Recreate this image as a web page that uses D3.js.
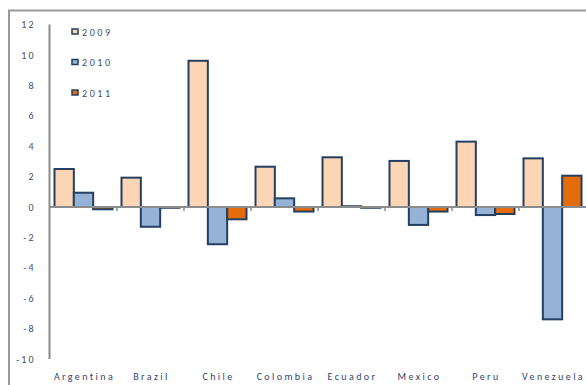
<!DOCTYPE html>
<html>
<head>
<meta charset="utf-8">
<script src="https://cdn.jsdelivr.net/npm/d3@7"></script>
<style>
  html, body { margin: 0; padding: 0; background: #fff; }
  text { font-family: Calibri, Carlito, "Liberation Sans", sans-serif; }
</style>
</head>
<body>
<svg id="chart" width="586" height="385"></svg>
<script>
'use strict';

const countries = ['Argentina', 'Brazil', 'Chile', 'Colombia', 'Ecuador', 'Mexico', 'Peru', 'Venezuela'];
const years = ['2009', '2010', '2011'];
const values2009 = [2.5, 1.93, 9.62, 2.65, 3.27, 3.03, 4.3, 3.2];
const values2010 = [0.94, -1.3, -2.45, 0.57, 0.05, -1.18, -0.53, -7.39];
const values2011 = [-0.15, -0.05, -0.81, -0.3, -0.05, -0.3, -0.46, 2.06];
const yTicks = [12, 10, 8, 6, 4, 2, 0, -2, -4, -6, -8, -10];
const yearColors = ['#fcd5b5', '#95b3d7', '#e46c0a'];

const seriesValues = [values2009, values2010, values2011];
const svg = d3.select('#chart');

const x = d3.scaleBand().domain(countries).range([50, 586]);
const x1 = d3.scaleBand().domain(years).range([4.5, x.bandwidth() - 4.5]);
const y = d3.scaleLinear().domain([-10, 12]).range([359, 24.6]);

// outer frame (only top and left edges are visible)
svg.append('path')
  .attr('d', 'M9,400V10.5H590')
  .attr('fill', 'none')
  .attr('stroke', '#9a9a9a')
  .attr('stroke-width', 2);

// y axis line
svg.append('line')
  .attr('x1', 49.5).attr('x2', 49.5)
  .attr('y1', y(12)).attr('y2', y(-10))
  .attr('stroke', '#8c8c8c')
  .attr('stroke-width', 2);

// y tick labels
svg.append('g').selectAll('text')
  .data(yTicks)
  .enter().append('text')
  .attr('x', 35.5)
  .attr('y', d => y(d) + 3.5)
  .attr('text-anchor', 'end')
  .attr('fill', '#3d4f70')
  .attr('font-size', 10)
  .attr('letter-spacing', 2)
  .text(d => d);

// bars
const groups = svg.append('g').selectAll('g')
  .data(countries)
  .enter().append('g')
  .attr('transform', d => `translate(${x(d)},0)`);

groups.selectAll('rect')
  .data((c, i) => years.map((yr, k) => ({year: yr, value: seriesValues[k][i], color: yearColors[k]})))
  .enter().append('rect')
  .attr('x', d => x1(d.year))
  .attr('width', x1.bandwidth())
  .attr('y', d => y(Math.max(0, d.value)))
  .attr('height', d => Math.abs(y(d.value) - y(0)))
  .attr('fill', d => d.color)
  .attr('stroke', '#243f60')
  .attr('stroke-width', 2);

// zero line with tick marks
svg.append('line')
  .attr('x1', 49).attr('x2', 586)
  .attr('y1', y(0)).attr('y2', y(0))
  .attr('stroke', '#8c8c8c')
  .attr('stroke-width', 2);

svg.append('g').selectAll('line')
  .data(countries.slice(1))
  .enter().append('line')
  .attr('x1', d => x(d)).attr('x2', d => x(d))
  .attr('y1', y(0)).attr('y2', y(0) + 4)
  .attr('stroke', '#8c8c8c')
  .attr('stroke-width', 1.5);

// category labels
svg.append('g').selectAll('text')
  .data(countries)
  .enter().append('text')
  .attr('x', d => x(d) + x.bandwidth() / 2 + 1)
  .attr('y', 380)
  .attr('text-anchor', 'middle')
  .attr('fill', '#2f4470')
  .attr('font-size', 10)
  .attr('letter-spacing', 2.4)
  .text(d => d);

// legend
const legend = svg.append('g').selectAll('g')
  .data(years)
  .enter().append('g')
  .attr('transform', (d, i) => `translate(72,${32 + i * 30.5})`);

legend.append('rect')
  .attr('x', 0).attr('y', -3)
  .attr('width', 6).attr('height', 5)
  .attr('fill', (d, i) => yearColors[i])
  .attr('stroke', '#243f60')
  .attr('stroke-width', 1.5);

legend.append('text')
  .attr('x', 10)
  .attr('y', 3.5)
  .attr('fill', '#3d4f70')
  .attr('font-size', 10)
  .attr('letter-spacing', 2.6)
  .text(d => d);
</script>
</body>
</html>
